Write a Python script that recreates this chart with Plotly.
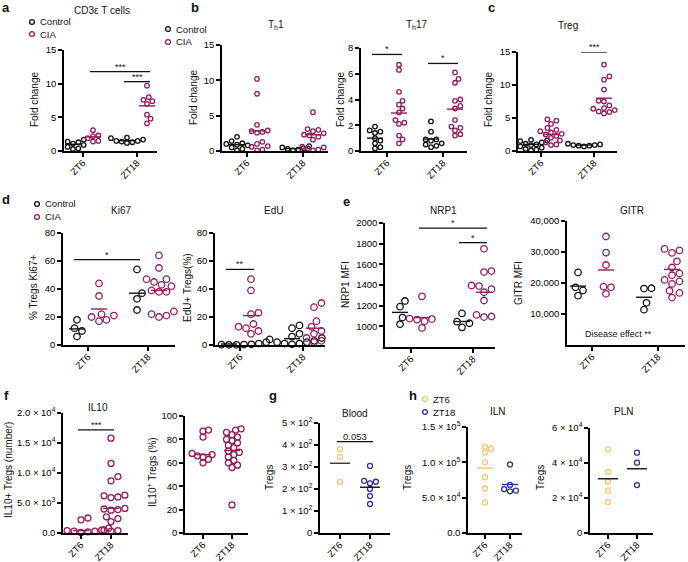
import numpy as np
import plotly.graph_objects as go

W, H = 688, 562
PURPLE = "#8e1f5c"
BLACK = "#111111"
ORANGE = "#f3c46f"
NAVY = "#2e3192"
FONT = "Liberation Sans, Arial, sans-serif"

# ---- data ----
# a: CD3e T cells, fold change
cd3_ctl_zt6 = [1.7, 1.4, 1.3, 1.1, 0.9, 0.6, 0.4, 0.3]
cd3_cia_zt6 = [3.1, 2.3, 2.2, 1.9, 1.5, 1.4]
cd3_ctl_zt18 = [2.0, 1.9, 1.7, 1.5, 1.4, 1.3, 1.2, 1.5]
cd3_cia_zt18 = [9.7, 8.0, 7.6, 7.4, 7.0, 5.4, 4.8, 4.1]
cd3_lines = [1.0, 2.1, 1.55, 6.7]

# b: Th1 / Th17
th1_ctl_zt6 = [2.0, 1.4, 1.1, 1.0, 0.9, 0.8, 0.5, 0.3, 0.1]
th1_cia_zt6 = [10.2, 8.1, 3.7, 2.9, 2.8, 2.7, 2.6, 1.3, 1.0, 0.7, 0.6, 0.2, 0.1]
th1_ctl_zt18 = [0.7, 0.5, 0.4, 0.3, 0.2, 0.1]
th1_cia_zt18 = [5.5, 3.1, 3.0, 2.8, 2.5, 2.3, 2.2, 2.0, 1.6, 0.6, 0.5, 0.4, 0.2, 0.1]
th1_lines = [0.9, 2.85, 0.35, 2.3]

th17_ctl_zt6 = [1.9, 1.6, 1.5, 1.4, 1.0, 0.8, 0.6, 0.3, 0.2]
th17_cia_zt6 = [6.7, 6.3, 4.6, 3.9, 3.6, 3.3, 3.0, 2.4, 2.2, 2.1, 1.2, 0.9, 0.6]
th17_ctl_zt18 = [2.3, 1.5, 0.9, 0.9, 0.8, 0.6, 0.5, 0.4, 0.3]
th17_cia_zt18 = [6.1, 5.6, 5.3, 4.0, 3.9, 3.5, 3.3, 2.4, 1.9, 1.8, 1.6, 1.3, 1.2]
th17_lines = [1.0, 2.95, 0.93, 3.25]

# c: Treg
treg_ctl_zt6 = [1.7, 1.6, 1.5, 1.3, 1.1, 1.0, 0.9, 0.7, 0.5, 0.3, 0.2, 0.1]
treg_cia_zt6 = [4.8, 4.6, 4.1, 3.5, 3.2, 3.0, 2.8, 2.6, 2.5, 2.3, 2.0, 1.6, 1.3, 1.0, 0.9]
treg_ctl_zt18 = [1.1, 1.0, 0.9, 0.9, 0.8, 0.8, 0.7]
treg_cia_zt18 = [13.1, 11.3, 10.8, 9.3, 7.6, 7.5, 6.9, 6.5, 6.4, 6.2, 6.0, 5.9, 5.7]
treg_lines = [1.0, 2.5, 0.9, 8.0]

# d: Ki67 / EdU
ki67_ctl_zt6 = [18, 12, 10, 6]
ki67_cia_zt6 = [44, 35, 22, 21, 20, 18, 17]
ki67_ctl_zt18 = [54, 37, 33, 25]
ki67_cia_zt18 = [64, 55, 47, 47, 45, 43, 42, 39, 38, 38, 24, 22, 21, 20]
ki67_lines = [11.5, 25.7, 37, 39]

edu_ctl_zt6 = [2, 1.5, 1, 1, 0.5, 0.5, 0.3, 0.2, 0.1, 0.1]
edu_cia_zt6 = [47, 39, 23, 22, 15, 13, 12, 10, 8]
edu_ctl_zt18 = [14, 12, 8, 6, 5, 4, 3, 2, 2, 1, 1, 0.5]
edu_cia_zt18 = [30, 27, 17, 13, 10, 8, 5, 3, 2]
edu_lines = [0.7, 21, 4.5, 12]

# e: NRP1 / GITR MFI
nrp1_ctl_zt6 = [1245, 1190, 1085, 1020]
nrp1_cia_zt6 = [1290, 1075, 1070, 1065, 1050, 985]
nrp1_ctl_zt18 = [1125, 1045, 1030, 990]
nrp1_cia_zt18 = [1750, 1535, 1525, 1395, 1390, 1360, 1330, 1250, 1120, 1110, 1095, 1090]
nrp1_lines = [1135, 1085, 1047, 1330]

gitr_ctl_zt6 = [23400, 18600, 17600, 15900]
gitr_cia_zt6 = [35000, 29800, 25800, 18800, 18600, 16500]
gitr_ctl_zt18 = [18300, 18200, 13600, 11400]
gitr_cia_zt18 = [31300, 31000, 30500, 29700, 27000, 25000, 23100, 22500,
                 21000, 20500, 19700, 17500, 16800, 15300]
gitr_lines = [19000, 24200, 15400, 24400]

# f: IL10
il10n_zt6 = [2500, 2200, 800, 600, 500, 400, 300, 300, 200, 100]
il10n_zt18 = [15800, 11600, 9400, 8700, 6300, 6200, 6000, 5900, 4100, 4000,
              3900, 3800, 2700, 2400, 1900, 500, 400, 300]
il10n_lines = [400, 4100]

il10p_zt6 = [88, 87, 82, 68, 67, 66, 65, 63, 60]
il10p_zt18 = [89, 88, 86, 84, 82, 80, 79, 77, 75, 73, 70, 69, 67, 65, 62, 60, 58, 56, 24]
il10p_lines = [67, 70.5]

# g: blood, h: ILN / PLN
blood_zt6 = [380, 345, 232]
blood_zt18 = [305, 237, 233, 226, 200, 168, 132]
blood_lines = [317, 208]

iln_zt6 = [122000, 119000, 114000, 100000, 79000, 63000, 43000]
iln_zt18 = [97000, 68000, 62000, 60000, 59000]
iln_lines = [91900, 68600]

pln_zt6 = [47800, 34900, 29300, 24200, 17700]
pln_zt18 = [45900, 40200, 27400]
pln_lines = [31000, 36700]

zt_labels = ["ZT6", "ZT18"]

fig = go.Figure()
annots = []
shapes = []
n_ax = 0


def swarm(vals, ppy, d):
    # simple beeswarm in pixel space, returns x offsets (px)
    ys = [v * ppy for v in vals]
    cands = [0.0]
    for j in range(1, 60):
        cands += [j * 0.35 * d, -j * 0.35 * d]
    placed = []
    offs = [0.0] * len(vals)
    for i in np.argsort(ys):
        for c in cands:
            if all(np.hypot(c - px, ys[i] - py) >= d for px, py in placed):
                offs[i] = c
                placed.append((c, ys[i]))
                break
    return offs


def add_panel(box, yrange, yticks, yticktext, groups, lines, sigs=(), msize=5, off=0,
              hw=8, gap=0.6):
    global n_ax
    n_ax += 1
    x0, x1, yt, yb, t1, t2 = box
    ppu = t2 - t1
    xr = [1 - (t1 - x0) / ppu, 2 + (x1 - t2) / ppu]
    ppy = (yb - yt) / (yrange[1] - yrange[0])
    sfx = "" if n_ax == 1 else str(n_ax)
    xa, ya = "x" + sfx, "y" + sfx
    common = dict(showline=True, linecolor="black", linewidth=1.5, ticks="outside",
                  ticklen=4, tickwidth=1.5, tickcolor="black", showgrid=False,
                  zeroline=False, automargin=False,
                  tickfont=dict(size=9.5, color="black", family=FONT))
    fig.update_layout(**{
        "xaxis" + sfx: dict(domain=[x0 / W, x1 / W], range=xr, anchor=ya,
                            tickvals=[1, 2], ticktext=zt_labels, tickangle=-45,
                            ticklabelstandoff=-3, **common),
        "yaxis" + sfx: dict(domain=[1 - yb / H, 1 - yt / H], range=yrange, anchor=xa,
                            tickvals=yticks, ticktext=yticktext, **common),
    })
    centers = {}
    for (key, zt, sign, vals, col, lcol), m in zip(groups, lines):
        cx = zt + sign * off / ppu
        centers[key] = cx
        offs = swarm([v - yrange[0] for v in vals], ppy, msize + gap)
        fig.add_trace(go.Scatter(
            x=[cx + o / ppu for o in offs], y=vals, mode="markers", xaxis=xa, yaxis=ya,
            marker=dict(symbol="circle-open", size=msize, color=col,
                        line=dict(width=1.3, color=col)),
            cliponaxis=False, showlegend=False, hoverinfo="y"))
        fig.add_trace(go.Scatter(
            x=[cx - hw / ppu, cx + hw / ppu], y=[m, m], mode="lines", xaxis=xa, yaxis=ya,
            line=dict(color=lcol, width=1.4), cliponaxis=False, showlegend=False,
            hoverinfo="skip"))
    for ga, gb, yv, lab in sigs:
        xa0, xb0 = centers[ga] - 3 / ppu, centers[gb] + 3 / ppu
        shapes.append(dict(type="line", xref=xa, yref=ya, x0=xa0, x1=xb0, y0=yv, y1=yv,
                           line=dict(color=BLACK, width=1.3)))
        annots.append(dict(xref=xa, yref=ya, x=(xa0 + xb0) / 2, y=yv, text=lab,
                           showarrow=False, yanchor="bottom", yshift=-2,
                           font=dict(size=9 if lab != "0.053" else 9.5, color=BLACK,
                                     family=FONT)))


def four(ctl6, cia6, ctl18, cia18):
    return [("c6", 1, -1, ctl6, BLACK, BLACK), ("p6", 1, 1, cia6, PURPLE, PURPLE),
            ("c18", 2, -1, ctl18, BLACK, BLACK), ("p18", 2, 1, cia18, PURPLE, PURPLE)]


def two(v6, v18, c6, c18, l6, l18):
    return [("z6", 1, 0, v6, c6, l6), ("z18", 2, 0, v18, c18, l18)]


fc = [0, 5, 10, 15]
add_panel((64, 157, 50, 151, 83, 137), [0, 15], fc, [str(v) for v in fc],
          four(cd3_ctl_zt6, cd3_cia_zt6, cd3_ctl_zt18, cd3_cia_zt18), cd3_lines,
          [("p6", "p18", 11.8, "***"), ("c18", "p18", 10.3, "***")], msize=4.5, off=10)
add_panel((222, 328, 45, 151, 247, 303), [0, 15], fc, [str(v) for v in fc],
          four(th1_ctl_zt6, th1_cia_zt6, th1_ctl_zt18, th1_cia_zt18), th1_lines,
          msize=4.5, off=10)
add_panel((361, 467, 48, 151, 387, 443), [0, 8], [0, 2, 4, 6, 8], ["0", "2", "4", "6", "8"],
          four(th17_ctl_zt6, th17_cia_zt6, th17_ctl_zt18, th17_cia_zt18), th17_lines,
          [("c6", "p6", 7.5, "*"), ("c18", "p18", 6.8, "*")], msize=4.5, off=12)
add_panel((518, 617, 52, 151, 541, 594), [0, 15], fc, [str(v) for v in fc],
          four(treg_ctl_zt6, treg_cia_zt6, treg_ctl_zt18, treg_cia_zt18), treg_lines,
          [("p6", "p18", 16.4, "***"), ("c18", "p18", 15.0, "***")], msize=4.5, off=10)

pc = [0, 20, 40, 60, 80]
add_panel((63, 175, 233, 345, 88, 148), [0, 80], pc, [str(v) for v in pc],
          four(ki67_ctl_zt6, ki67_cia_zt6, ki67_ctl_zt18, ki67_cia_zt18), ki67_lines,
          [("c6", "c18", 61, "*")], msize=6.5, off=11)
add_panel((215, 325, 233, 345, 240, 303), [0, 80], pc, [str(v) for v in pc],
          four(edu_ctl_zt6, edu_cia_zt6, edu_ctl_zt18, edu_cia_zt18), edu_lines,
          [("c6", "p6", 54, "**")], msize=6.5, off=11)
nt = [1000, 1200, 1400, 1600, 1800, 2000]
add_panel((385, 495, 223, 347, 411, 473), [800, 2000], nt, [str(v) for v in nt],
          four(nrp1_ctl_zt6, nrp1_cia_zt6, nrp1_ctl_zt18, nrp1_cia_zt18), nrp1_lines,
          [("p6", "p18", 1950, "*"), ("c18", "p18", 1810, "*")], msize=6.5, off=11)
gt = [10000, 20000, 30000, 40000]
add_panel((567, 685, 221, 345, 592, 658), [0, 40000], gt, [f"{v:,}" for v in gt],
          four(gitr_ctl_zt6, gitr_cia_zt6, gitr_ctl_zt18, gitr_cia_zt18), gitr_lines,
          msize=6.5, off=14)

add_panel((63, 128, 413, 533, 81, 111), [0, 20000], [0, 5000, 10000, 15000, 20000],
          ["0.0", "5.0 × 10<sup>3</sup>", "1.0 × 10<sup>4</sup>", "1.5 × 10<sup>4</sup>",
           "2.0 × 10<sup>4</sup>"],
          two(il10n_zt6, il10n_zt18, PURPLE, PURPLE, PURPLE, PURPLE), il10n_lines,
          [("z6", "z18", 17200, "***")], msize=6)
add_panel((185, 248, 416, 533, 203, 232), [0, 100], [0, 20, 40, 60, 80, 100],
          ["0", "20", "40", "60", "80", "100"],
          two(il10p_zt6, il10p_zt18, PURPLE, PURPLE, PURPLE, PURPLE), il10p_lines,
          msize=6, gap=-0.8)
add_panel((320, 390, 423, 533, 340, 370), [0, 500], [0, 100, 200, 300, 400, 500],
          ["0"] + [f"{k} × 10<sup>2</sup>" for k in range(1, 6)],
          two(blood_zt6, blood_zt18, ORANGE, NAVY, "#333333", BLACK), blood_lines,
          [("z6", "z18", 415, "0.053")], msize=5, hw=10)
add_panel((468, 522, 427, 533, 485, 510), [0, 150000], [0, 50000, 100000, 150000],
          ["0.0", "5.0 × 10<sup>4</sup>", "1.0 × 10<sup>5</sup>", "1.5 × 10<sup>5</sup>"],
          two(iln_zt6, iln_zt18, ORANGE, NAVY, ORANGE, NAVY), iln_lines, msize=5)
add_panel((590, 653, 428, 533, 608, 637), [0, 60000], [0, 20000, 40000, 60000],
          ["0"] + [f"{k} × 10<sup>4</sup>" for k in (2, 4, 6)],
          two(pln_zt6, pln_zt18, ORANGE, NAVY, BLACK, BLACK), pln_lines, msize=5, hw=10)


def text(x, y, s, size=10, bold=False, angle=0, anchor="center"):
    annots.append(dict(xref="paper", yref="paper", x=x / W, y=1 - y / H,
                       text=f"<b>{s}</b>" if bold else s, showarrow=False,
                       textangle=angle, xanchor=anchor, yanchor="middle",
                       font=dict(size=size, color=BLACK, family=FONT)))


def legend_dot(x, y, col):
    shapes.append(dict(type="circle", xref="paper", yref="paper",
                       x0=(x - 2.4) / W, x1=(x + 2.4) / W,
                       y0=1 - (y + 2.4) / H, y1=1 - (y - 2.4) / H,
                       line=dict(color=col, width=1.3)))


# panel letters
for lab, x, y in [("a", 6, 8), ("b", 195, 8), ("c", 491, 8), ("d", 6, 200),
                  ("e", 346, 201), ("f", 6, 395), ("g", 273, 395), ("h", 413, 395)]:
    text(x, y, lab, size=13, bold=True)

# panel titles
for s, x, y in [("CD3ε T cells", 102, 11), ("T<sub>h</sub>1", 276, 25),
                ("T<sub>h</sub>17", 417, 25), ("Treg", 568, 25), ("Ki67", 121, 210),
                ("EdU", 273, 210), ("NRP1", 443, 210), ("GITR", 632, 210),
                ("IL10", 98, 407), ("Blood", 355, 413), ("ILN", 498, 411),
                ("PLN", 623, 411)]:
    text(x, y, s)

# axis titles
for s, x, y in [("Fold change", 35, 100), ("Fold change", 193, 98),
                ("Fold change", 341, 100), ("Fold change", 489, 100),
                ("% Tregs Ki67+", 33, 288), ("EdU+ Tregs(%)", 187, 288),
                ("NRP1 MFI", 345, 285), ("GITR MFI", 518, 283),
                ("IL10+ Tregs (number)", 8, 470), ("IL10<sup>+</sup> Tregs (%)", 152, 472),
                ("Tregs", 269, 478), ("Tregs", 407, 478), ("Tregs", 540, 478)]:
    text(x, y, s, angle=-90)

text(618, 334, "Disease effect **", size=9)

# legends
for x, y, lab, col in [(32, 22, "Control", BLACK), (32, 34, "CIA", PURPLE),
                       (168, 29, "Control", BLACK), (168, 42, "CIA", PURPLE),
                       (37, 204, "Control", BLACK), (37, 217, "CIA", PURPLE),
                       (425, 399, "ZT6", ORANGE), (425, 412, "ZT18", NAVY)]:
    legend_dot(x, y, col)
    text(x + 6, y, lab, size=9.5, anchor="left")

fig.update_layout(template="none", width=W, height=H,
                  margin=dict(l=0, r=0, t=0, b=0),
                  paper_bgcolor="white", plot_bgcolor="white",
                  annotations=annots, shapes=shapes, showlegend=False,
                  font=dict(family=FONT, color=BLACK))
# page body has a default 8px margin; drop it so the figure sits at the corner
fig.write_html("out.html", config={"displayModeBar": False},
               post_script="document.body.style.margin='0px';")
